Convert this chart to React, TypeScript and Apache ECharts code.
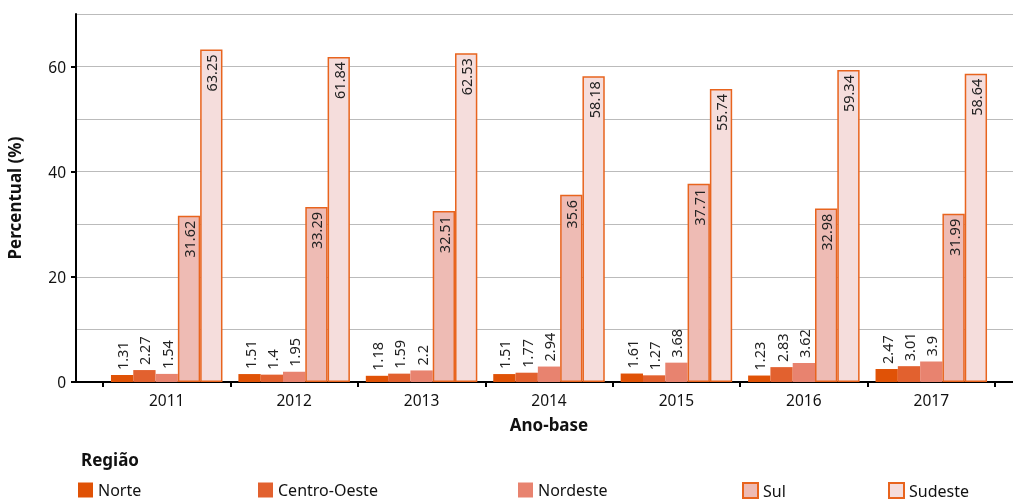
import React, { useEffect, useRef } from "react";
import * as echarts from "echarts";

const years = ["2011", "2012", "2013", "2014", "2015", "2016", "2017"];
const norte = [1.31, 1.51, 1.18, 1.51, 1.61, 1.23, 2.47];
const centroOeste = [2.27, 1.4, 1.59, 1.77, 1.27, 2.83, 3.01];
const nordeste = [1.54, 1.95, 2.2, 2.94, 3.68, 3.62, 3.9];
const sul = [31.62, 33.29, 32.51, 35.6, 37.71, 32.98, 31.99];
const sudeste = [63.25, 61.84, 62.53, 58.18, 55.74, 59.34, 58.64];
const yTicks = [0, 20, 40, 60];

const FONT = "'Noto Sans', sans-serif";

export default function App() {
  const ref = useRef<HTMLDivElement>(null);
  useEffect(() => {
    if (!ref.current) return;
    const chart = echarts.init(ref.current, null, { renderer: "svg" });
    const mk = (name: string, data: number[], color: string, border: boolean, inside: boolean) => ({
      name,
      type: "bar",
      xAxisIndex: 0,
      yAxisIndex: 0,
      data,
      barGap: "0%",
      barCategoryGap: "12.5%",
      itemStyle: border
        ? { color, borderColor: "#E8641E", borderWidth: 1.5 }
        : { color },
      label: {
        show: true,
        position: inside ? "insideTop" : "top",
        rotate: 90,
        align: inside ? "right" : "left",
        verticalAlign: "middle",
        distance: 5,
        fontSize: 14.5,
        color: "#222",
        fontFamily: FONT,
      },
    });
    const names = ["Norte", "Centro-Oeste", "Nordeste", "Sul", "Sudeste"];
    const lefts = [78, 258, 518, 742, 888];
    chart.setOption({
      animation: false,
      textStyle: { fontFamily: FONT },
      title: {
        text: "Região",
        left: 76,
        top: 446,
        textStyle: { fontSize: 17, fontWeight: "bold", color: "#111", fontFamily: FONT },
      },
      legend: names.map((n, i) => ({
        data: [n],
        left: lefts[i],
        top: 482,
        icon: "rect",
        itemWidth: 15,
        itemHeight: 15,
        itemGap: 8,
        padding: 0,
        textStyle: { fontSize: 16, color: "#111", fontFamily: FONT },
      })),
      grid: [
        { left: 103, right: 18, top: 14, bottom: 118, outerBoundsMode: "none", containLabel: false },
        { left: 76, right: 0, top: 14, bottom: 118, outerBoundsMode: "none", containLabel: false },
      ],
      xAxis: [
        {
          type: "category",
          gridIndex: 0,
          data: years,
          axisLine: { show: false },
          axisTick: { show: true, length: 5, lineStyle: { color: "#000", width: 2 } },
          axisLabel: { fontSize: 15.5, color: "#111", margin: 10, fontFamily: FONT },
          name: "Ano-base",
          nameLocation: "middle",
          nameGap: 34,
          nameTextStyle: { fontSize: 17, fontWeight: "bold", color: "#111", fontFamily: FONT },
        },
        {
          type: "value",
          gridIndex: 1,
          min: 0,
          max: 1,
          axisLine: { show: true, lineStyle: { color: "#000", width: 2 } },
          axisTick: { show: false },
          axisLabel: { show: false },
          splitLine: { show: false },
        },
      ],
      yAxis: [
        { type: "value", gridIndex: 0, min: 0, max: 70, interval: 10, show: false },
        {
          type: "value",
          gridIndex: 1,
          position: "left",
          min: 0,
          max: 70,
          interval: 10,
          axisLine: { show: false },
          axisTick: { show: false },
          axisLabel: { show: false },
          splitLine: { show: true, lineStyle: { color: "#bbb", width: 1 } },
        },
        {
          type: "value",
          gridIndex: 1,
          position: "left",
          offset: 0,
          min: 0,
          max: 70,
          interval: 10,
          z: 5,
          axisLine: { show: true, lineStyle: { color: "#000", width: 2 } },
          axisTick: { show: true, length: 5, customValues: yTicks, lineStyle: { color: "#000", width: 2 } },
          axisLabel: { customValues: yTicks, fontSize: 15.5, color: "#111", margin: 10, fontFamily: FONT },
          splitLine: { show: false },
          name: "Percentual (%)",
          nameLocation: "middle",
          nameGap: 53,
          nameTextStyle: { fontSize: 17, fontWeight: "bold", color: "#111", fontFamily: FONT },
        },
      ],
      series: [
        mk("Norte", norte, "#E05206", false, false),
        mk("Centro-Oeste", centroOeste, "#E2612F", false, false),
        mk("Nordeste", nordeste, "#E8836F", false, false),
        mk("Sul", sul, "#EEBBB4", true, true),
        mk("Sudeste", sudeste, "#F5DDDC", true, true),
      ],
    });
    return () => chart.dispose();
  }, []);
  return (
    <div
      ref={ref}
      style={{ position: "fixed", left: 0, top: 0, width: 1013, height: 500 }}
    />
  );
}
